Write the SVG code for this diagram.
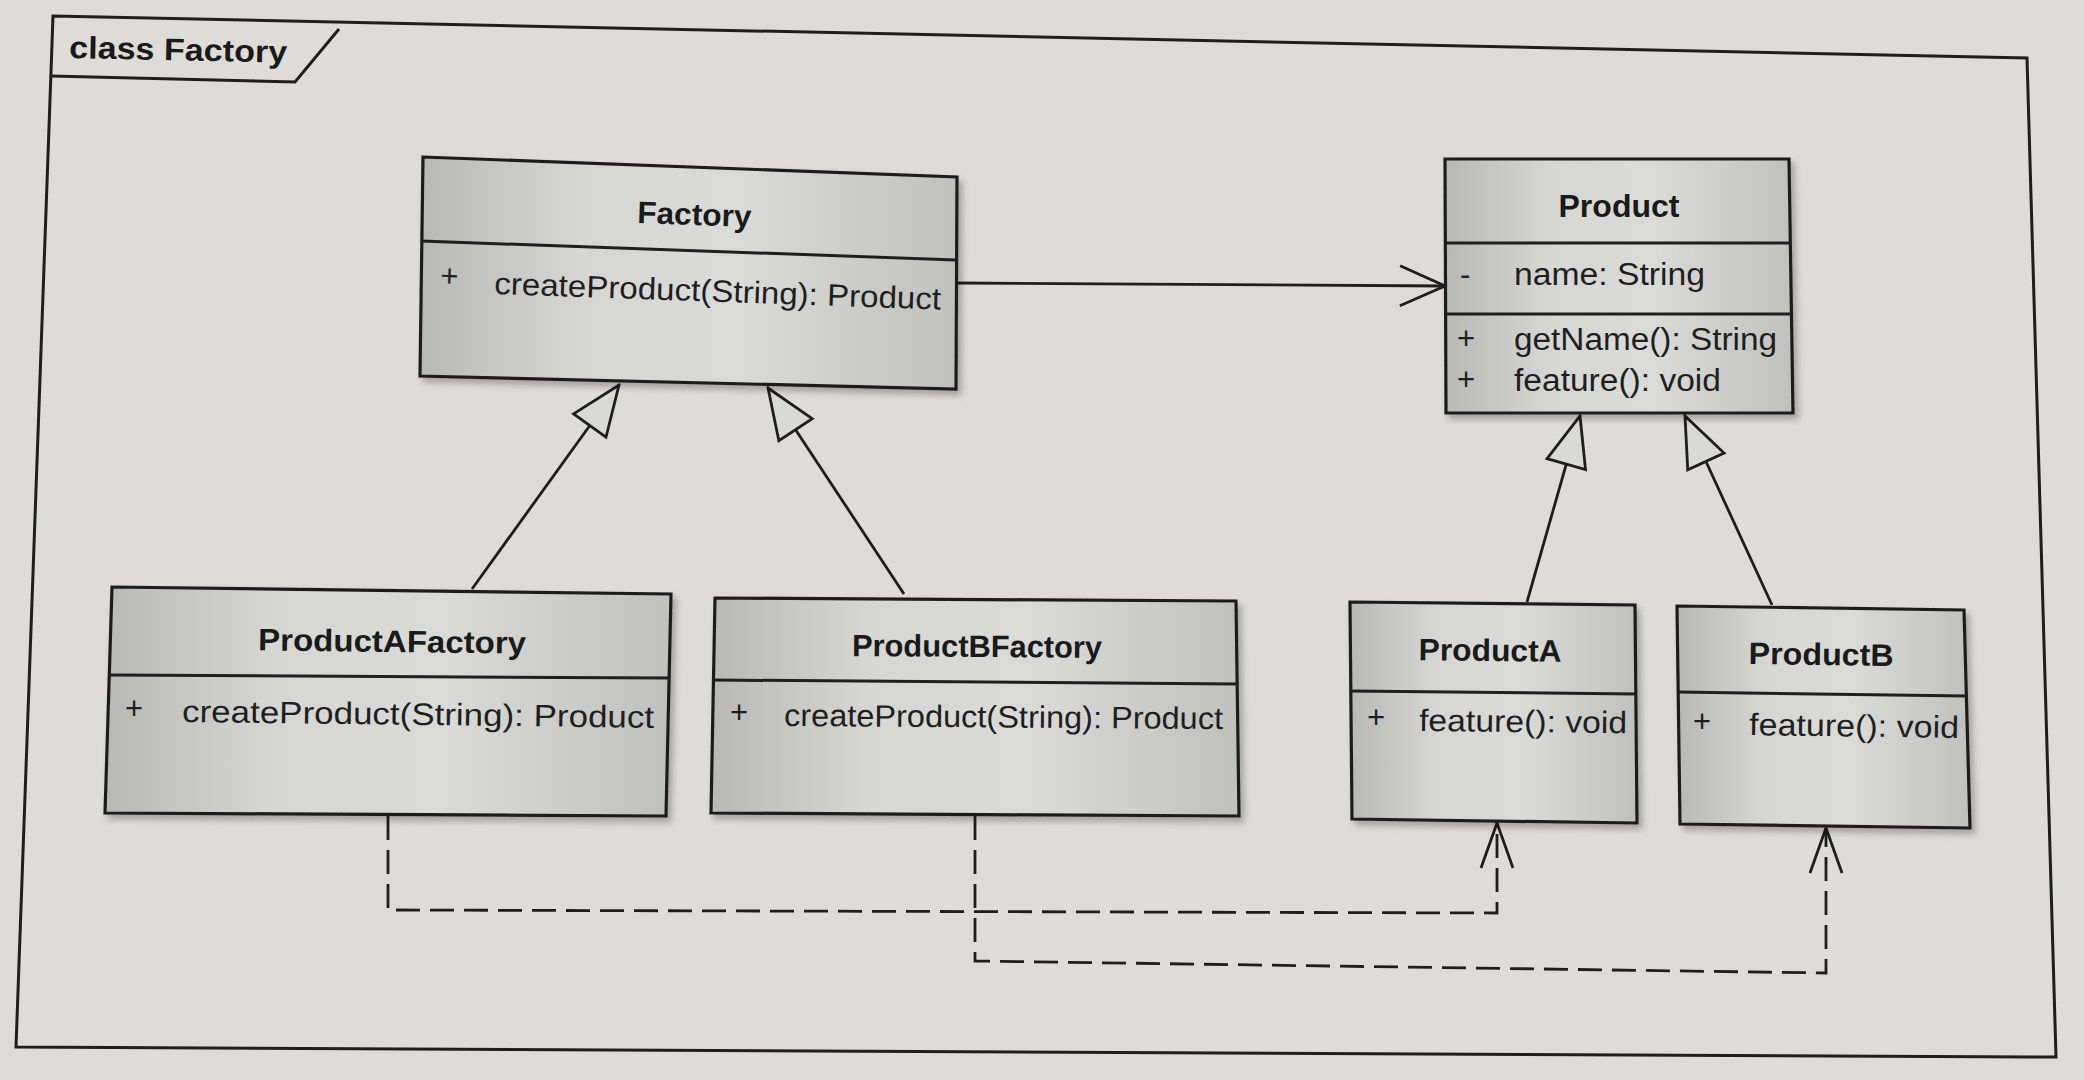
<svg xmlns="http://www.w3.org/2000/svg" width="2084" height="1080" viewBox="0 0 2084 1080">
<style>
.bg{fill:#dddcd8}
.frame{fill:none;stroke:#1e1e1e;stroke-width:3}
.box{fill:url(#boxfill);stroke:#1e1e1e;stroke-width:3.2;filter:url(#sh)}
.div{stroke:#1e1e1e;stroke-width:3}
.edge{fill:none;stroke:#1e1e1e;stroke-width:2.8}
.dash{stroke-dasharray:24 10}
.t{font-family:"Liberation Sans",Arial,sans-serif;font-weight:bold;font-size:31px;fill:#1a1a1a;text-anchor:middle}
.m{font-family:"Liberation Sans",Arial,sans-serif;font-size:31px;fill:#1f1f1f}
.lbl{font-family:"Liberation Sans",Arial,sans-serif;font-weight:bold;font-size:31px;fill:#1a1a1a}
</style>
<defs>
<linearGradient id="boxfill" x1="0" y1="0" x2="1" y2="0">
<stop offset="0" stop-color="#b8b8b6"/>
<stop offset="0.3" stop-color="#d6d6d4"/>
<stop offset="0.6" stop-color="#dadad8"/>
<stop offset="1" stop-color="#c0c0be"/>
</linearGradient>
<filter id="sh" x="-5%" y="-5%" width="115%" height="115%">
<feDropShadow dx="4" dy="5" stdDeviation="3" flood-color="#000" flood-opacity="0.25"/>
</filter>
<marker id="gen" markerUnits="userSpaceOnUse" markerWidth="54" markerHeight="46" refX="52" refY="23" orient="auto">
<path d="M2,3 L52,23 L2,43 Z" fill="#d9d9d7" stroke="#1e1e1e" stroke-width="2.8"/>
</marker>
<marker id="open" markerUnits="userSpaceOnUse" markerWidth="50" markerHeight="46" refX="47" refY="23" orient="auto">
<path d="M2,3 L47,23 L2,43" fill="none" stroke="#1e1e1e" stroke-width="2.8"/>
</marker>
<marker id="dep" markerUnits="userSpaceOnUse" markerWidth="50" markerHeight="36" refX="47" refY="18" orient="auto">
<path d="M2,2 L47,18 L2,34" fill="none" stroke="#1e1e1e" stroke-width="2.8"/>
</marker>
</defs>
<rect class="bg" x="0" y="0" width="2084" height="1080"/>

<g id="frame">
<path class="frame" d="M53,16 L2027,58 L2056,1057 L16,1047 Z"/>
<path class="frame" d="M51,76 L295,82 L339,29"/>
<text class="lbl" x="69" y="58" textLength="218" lengthAdjust="spacingAndGlyphs" transform="rotate(1.2 69 58)">class Factory</text>
</g>

<g id="connectors">
<path class="edge" d="M957,283 L1445,286" marker-end="url(#open)"/>
<path class="edge" d="M472,589 L619,385" marker-end="url(#gen)"/>
<path class="edge" d="M904,594 L768,388" marker-end="url(#gen)"/>
<path class="edge" d="M1527,602 L1580,416" marker-end="url(#gen)"/>
<path class="edge" d="M1772,605 L1685,416" marker-end="url(#gen)"/>
<path class="edge dash" d="M388,816 L388,910 L1497,913 L1497,823" marker-end="url(#dep)"/>
<path class="edge dash" d="M975,816 L975,961 L1826,973 L1826,828" marker-end="url(#dep)"/>
</g>

<g id="Factory">
<path class="box" d="M423,157 L957,177 L956,389 L420,376 Z"/>
<line class="div" x1="421" y1="241" x2="956" y2="260"/>
<text class="t" x="694" y="225" textLength="114" lengthAdjust="spacingAndGlyphs" transform="rotate(2 694 225)">Factory</text>
<text class="m" x="440" y="286" transform="rotate(2 440 286)">+</text>
<text class="m" x="494" y="294" textLength="447" lengthAdjust="spacingAndGlyphs" transform="rotate(2 494 294)">createProduct(String): Product</text>
</g>

<g id="Product">
<path class="box" d="M1445,159 L1789,159 L1793,413 L1446,413 Z"/>
<line class="div" x1="1445" y1="243" x2="1791" y2="243"/>
<line class="div" x1="1446" y1="314" x2="1792" y2="314"/>
<text class="t" x="1619" y="217" textLength="121" lengthAdjust="spacingAndGlyphs">Product</text>
<text class="m" x="1460" y="285">-</text>
<text class="m" x="1514" y="285" textLength="191" lengthAdjust="spacingAndGlyphs">name: String</text>
<text class="m" x="1457" y="349">+</text>
<text class="m" x="1514" y="350" textLength="263" lengthAdjust="spacingAndGlyphs">getName(): String</text>
<text class="m" x="1457" y="390">+</text>
<text class="m" x="1514" y="391" textLength="207" lengthAdjust="spacingAndGlyphs">feature(): void</text>
</g>

<g id="ProductAFactory">
<path class="box" d="M112,587 L671,594 L666,816 L105,813 Z"/>
<line class="div" x1="109" y1="675" x2="669" y2="678"/>
<text class="t" x="392" y="652" textLength="268" lengthAdjust="spacingAndGlyphs" transform="rotate(0.7 392 652)">ProductAFactory</text>
<text class="m" x="125" y="719">+</text>
<text class="m" x="182" y="722" textLength="472" lengthAdjust="spacingAndGlyphs" transform="rotate(0.7 182 722)">createProduct(String): Product</text>
</g>

<g id="ProductBFactory">
<path class="box" d="M715,598 L1236,601 L1239,816 L711,813 Z"/>
<line class="div" x1="713" y1="680" x2="1237" y2="684"/>
<text class="t" x="977" y="657" textLength="250" lengthAdjust="spacingAndGlyphs" transform="rotate(0.4 977 657)">ProductBFactory</text>
<text class="m" x="730" y="723">+</text>
<text class="m" x="784" y="726" textLength="439" lengthAdjust="spacingAndGlyphs" transform="rotate(0.4 784 726)">createProduct(String): Product</text>
</g>

<g id="ProductA">
<path class="box" d="M1350,602 L1635,605 L1637,823 L1352,819 Z"/>
<line class="div" x1="1351" y1="691" x2="1636" y2="694"/>
<text class="t" x="1490" y="661" textLength="143" lengthAdjust="spacingAndGlyphs" transform="rotate(0.6 1490 661)">ProductA</text>
<text class="m" x="1367" y="728">+</text>
<text class="m" x="1419" y="731" textLength="208" lengthAdjust="spacingAndGlyphs" transform="rotate(0.6 1419 731)">feature(): void</text>
</g>

<g id="ProductB">
<path class="box" d="M1677,606 L1964,610 L1970,828 L1680,824 Z"/>
<line class="div" x1="1678" y1="692" x2="1967" y2="696"/>
<text class="t" x="1821" y="665" textLength="145" lengthAdjust="spacingAndGlyphs" transform="rotate(0.8 1821 665)">ProductB</text>
<text class="m" x="1693" y="732">+</text>
<text class="m" x="1749" y="735" textLength="210" lengthAdjust="spacingAndGlyphs" transform="rotate(0.8 1749 735)">feature(): void</text>
</g>
</svg>
